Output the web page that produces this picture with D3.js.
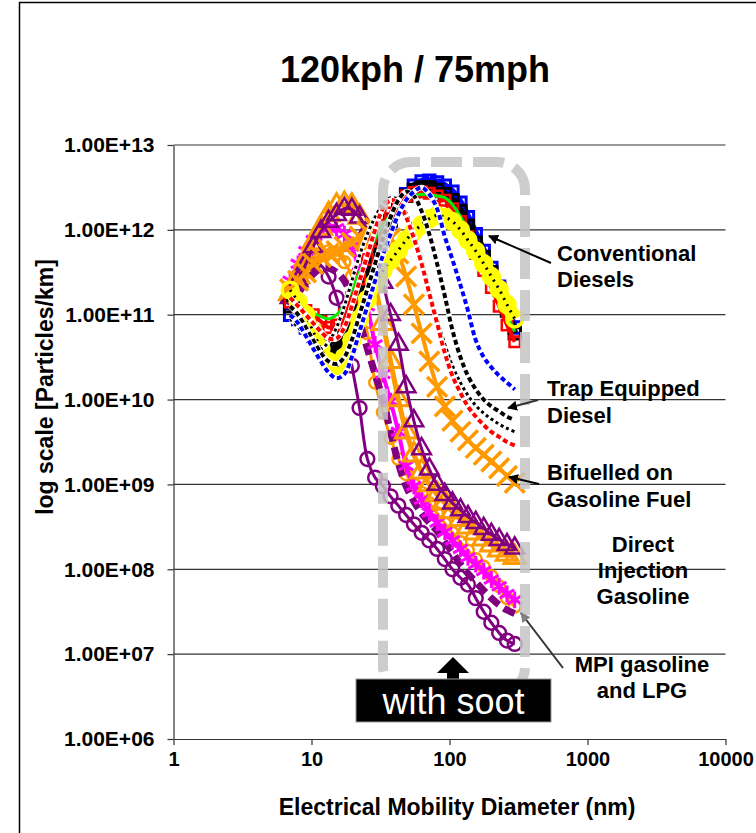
<!DOCTYPE html>
<html><head><meta charset="utf-8">
<script src="https://cdn.jsdelivr.net/npm/d3@7"></script>
<style>body{margin:0;background:#fff;} svg{display:block;font-family:Arial,"Liberation Sans",sans-serif;}</style>
</head><body><svg id="c" width="756" height="833"></svg>
<script>
// ---- DATA (diameters in nm, values as log10 of particles/km) ----
const diameters = [7, 8, 9.1, 10.3, 11.7, 13.3, 15.2, 17.3, 19.6, 22.3, 25.4, 28.9, 32.9, 37.4, 42.6, 48.5, 55.2, 62.8, 71.4, 81.3, 92.5, 105, 120, 136, 155, 177, 201, 229, 261, 297];

const purpleCircles = [11.3,11.45,11.55,11.6,11.58,11.45,11.2,10.85,10.4,9.9,9.3,9.08,8.98,8.86,8.75,8.64,8.53,8.43,8.34,8.24,8.12,8.0,7.9,7.82,7.66,7.5,7.37,7.25,7.16,7.12];
const orangeCircles = [11.2,11.35,11.5,11.62,11.7,11.75,11.72,11.62,11.45,11.15,10.78,10.2,9.85,9.55,9.3,9.12,9.0,8.9,8.78,8.66,8.54,8.43,8.32,8.22,8.12,8.03,7.92,7.8,7.66,7.56];
const purpleDashes = [11.1,11.25,11.38,11.48,11.55,11.55,11.5,11.4,11.2,10.92,10.6,10.3,10.0,9.62,9.25,8.98,8.8,8.66,8.55,8.45,8.32,8.2,8.06,7.95,7.85,7.75,7.66,7.58,7.52,7.48];
const magentaDI = [11.4,11.6,11.75,11.88,11.97,12.02,12.02,11.95,11.8,11.5,11.1,10.65,10.3,9.98,9.62,9.22,8.98,8.82,8.67,8.55,8.44,8.34,8.24,8.14,8.06,7.98,7.88,7.8,7.71,7.64];
const orangeTriangles = [11.25,11.45,11.65,11.85,12.02,12.18,12.28,12.3,12.28,12.15,11.85,11.35,10.9,10.45,10.0,9.62,9.35,9.15,9.0,8.88,8.78,8.68,8.59,8.5,8.43,8.36,8.29,8.23,8.18,8.14];
const purpleTriangles = [11.2,11.4,11.6,11.8,11.98,12.1,12.18,12.25,12.24,12.15,12.0,11.75,11.38,11.0,10.65,10.15,9.75,9.42,9.18,9.0,8.88,8.78,8.7,8.62,8.55,8.48,8.41,8.35,8.29,8.25];
const bifuelOrangeX = [11.3,11.4,11.5,11.6,11.68,11.72,11.75,11.8,11.85,11.92,11.98,12.02,12.0,11.9,11.72,11.45,11.12,10.78,10.45,10.15,9.92,9.75,9.62,9.52,9.43,9.35,9.27,9.19,9.1,9.02];
const blueDiesel = [11.0,10.95,10.85,10.75,10.62,10.5,10.45,10.55,10.75,11.0,11.3,11.6,11.88,12.1,12.28,12.42,12.52,12.57,12.58,12.56,12.52,12.45,12.32,12.15,11.95,11.75,11.55,11.33,11.08,10.85];
const blackDiesel = [11.1,11.0,10.9,10.8,10.7,10.6,10.62,10.75,10.95,11.2,11.45,11.7,11.93,12.12,12.28,12.4,12.47,12.5,12.5,12.47,12.42,12.35,12.22,12.05,11.85,11.68,11.5,11.3,11.05,10.78];
const redDiesel = [11.15,11.1,11.05,11.0,10.92,10.85,10.88,11.0,11.2,11.42,11.65,11.87,12.05,12.2,12.32,12.4,12.44,12.45,12.43,12.4,12.35,12.25,12.1,11.92,11.72,11.52,11.32,11.1,10.88,10.68];
const greenDiesel = [11.2,11.15,11.08,11.02,10.98,10.95,11.0,11.12,11.3,11.5,11.7,11.9,12.05,12.18,12.28,12.35,12.4,12.42,12.41,12.4,12.38,12.3,12.16,11.99,11.8,11.62,11.43,11.22,11.0,10.8];
const yellowDiesel = [11.29,11.15,11.0,10.8,10.6,10.45,10.4,10.5,10.7,10.95,11.18,11.38,11.52,11.64,11.76,11.88,11.98,12.06,12.13,12.17,12.15,12.1,12.0,11.88,11.75,11.6,11.45,11.3,11.12,10.95];
const grayTrap = [10.95,10.85,10.75,10.65,10.6,10.68,10.85,11.1,11.4,11.7,11.95,12.15,12.3,12.38,12.35,12.2,11.95,11.65,11.3,10.95,10.65,10.4,10.2,10.05,9.93,9.84,9.77,9.71,9.66,9.62];
const redTrap = [11.2,11.1,11.0,10.9,10.8,10.72,10.72,10.85,11.1,11.4,11.7,12.0,12.25,12.35,12.32,12.15,11.9,11.6,11.25,10.9,10.55,10.28,10.08,9.92,9.8,9.7,9.62,9.56,9.5,9.46];
const blackTrap = [11.1,11.0,10.85,10.7,10.55,10.45,10.42,10.5,10.7,11.0,11.3,11.6,11.9,12.15,12.35,12.45,12.4,12.22,11.95,11.6,11.22,10.82,10.5,10.28,10.12,10.0,9.92,9.86,9.8,9.76];
const blueTrap = [11.0,10.9,10.75,10.6,10.45,10.32,10.25,10.3,10.5,10.8,11.1,11.4,11.7,11.95,12.18,12.35,12.45,12.5,12.42,12.25,11.92,11.65,11.35,11.05,10.7,10.5,10.38,10.28,10.2,10.12];

const xTicks = [1, 10, 100, 1000, 10000];
const xTickLabels = ["1", "10", "100", "1000", "10000"];
const yTicks = [1e6, 1e7, 1e8, 1e9, 1e10, 1e11, 1e12, 1e13];
const yTickLabels = ["1.00E+06","1.00E+07","1.00E+08","1.00E+09","1.00E+10","1.00E+11","1.00E+12","1.00E+13"];

const titleText = "120kph / 75mph";
const xLabel = "Electrical Mobility Diameter (nm)";
const yLabel = "log scale [Particles/km]";

// ---- STYLES ----
const series = [
  {v: purpleCircles, color:"#800080", lw:3, marker:"circle", ms:150, mw:2.5},
  {v: orangeCircles, color:"#ff9900", lw:3, marker:"circle", ms:110, mw:2.5},
  {v: purpleDashes, color:"#800080", lw:7, dash:"12,6"},
  {v: magentaDI, color:"#ff00ff", lw:4, marker:"asterisk", ms:200, mw:3},
  {v: orangeTriangles, color:"#ff9900", lw:5, marker:"triangle", ms:200, mw:3},
  {v: purpleTriangles, color:"#800080", lw:3, marker:"triangle", ms:150, mw:2.5},
  {v: bifuelOrangeX, color:"#ff9900", lw:4, marker:"times", ms:260, mw:3.5},
  {v: blueDiesel, color:"#0000ff", lw:7, marker:"square", ms:130, mw:3},
  {v: blackDiesel, color:"#000000", lw:7, marker:"square", ms:130, mw:3},
  {v: redDiesel, color:"#ff0000", lw:4, marker:"square", ms:110, mw:2.5},
  {v: greenDiesel, color:"#00ee00", lw:3},
  {v: yellowDiesel, color:"#ffff00", lw:14, marker:"circle", ms:200, mw:3.5, overlay:{color:"#000", lw:3, dash:"2,5"}},
  {v: grayTrap, color:"#000000", lw:3, dash:"3,3", under:"#ffffff"},
  {v: redTrap, color:"#ff0000", lw:4, dash:"5,3", under:"#ffffff"},
  {v: blackTrap, color:"#000000", lw:4, dash:"5,3", under:"#ffffff"},
  {v: blueTrap, color:"#0000ff", lw:4, dash:"5,3", under:"#ffffff"}
];

const svg = d3.select("#c");
const x = d3.scaleLog().domain([1, 10000]).range([173.5, 725.5]);
const y = d3.scaleLog().domain([1e6, 1e13]).range([739, 145]);

// frame
svg.append("rect").attr("x",19.5).attr("y",2.5).attr("width",800).attr("height",900)
  .attr("fill","none").attr("stroke","#000").attr("stroke-width",1.5);

// title
svg.append("text").attr("x",415).attr("y",82).attr("text-anchor","middle")
  .attr("font-weight","bold").attr("font-size",36).text(titleText);

// gridlines
svg.append("g").selectAll("line").data(yTicks.slice(1)).join("line")
  .attr("x1",173.5).attr("x2",725.5).attr("y1",d=>y(d)).attr("y2",d=>y(d))
  .attr("stroke","#333").attr("stroke-width",1.2);

// axes
const yAxis = svg.append("g").attr("transform","translate(173.5,0)")
  .call(d3.axisLeft(y).tickValues(yTicks).tickFormat((d,i)=>yTickLabels[i]).tickSize(6).tickSizeOuter(0).tickPadding(13));
yAxis.selectAll("text").attr("font-size",21).attr("font-weight","bold").attr("fill","#000").attr("font-family","Arial,'Liberation Sans',sans-serif");
yAxis.selectAll("path,line").attr("stroke","#333").attr("stroke-width",1.2);

const xAxis = svg.append("g").attr("transform","translate(0,739)")
  .call(d3.axisBottom(x).tickValues(xTicks).tickFormat((d,i)=>xTickLabels[i]).tickSize(6).tickSizeOuter(0).tickPadding(7));
xAxis.selectAll("text").attr("font-size",20).attr("font-weight","bold").attr("fill","#000").attr("font-family","Arial,'Liberation Sans',sans-serif");
xAxis.selectAll("path,line").attr("stroke","#333").attr("stroke-width",1.2);

// axis labels
svg.append("text").attr("x",457).attr("y",815).attr("text-anchor","middle")
  .attr("font-weight","bold").attr("font-size",23).text(xLabel);
svg.append("text").attr("transform","translate(53,387) rotate(-90)").attr("text-anchor","middle")
  .attr("font-weight","bold").attr("font-size",23).text(yLabel);

// series
const line = d3.line().x((d,i)=>x(diameters[i])).y(d=>y(Math.pow(10,d))).curve(d3.curveCatmullRom);
const symMap = {
  circle: d3.symbolCircle, square: d3.symbolSquare, triangle: d3.symbolTriangle,
  times: d3.symbolTimes || d3.symbolCross, asterisk: d3.symbolAsterisk || d3.symbolCross
};
const gS = svg.append("g");
series.forEach(s => {
  if (s.under) gS.append("path").attr("d", line(s.v)).attr("fill","none").attr("stroke",s.under).attr("stroke-width",s.lw+1.5);
  gS.append("path").attr("d", line(s.v)).attr("fill","none").attr("stroke",s.color)
    .attr("stroke-width",s.lw).attr("stroke-dasharray",s.dash||null).attr("stroke-linejoin","round");
  if (s.marker) {
    const sym = d3.symbol().type(symMap[s.marker]).size(s.ms);
    gS.append("g").selectAll("path").data(s.v).join("path")
      .attr("transform",(d,i)=>`translate(${x(diameters[i])},${y(Math.pow(10,d))})`)
      .attr("d", sym()).attr("fill","none").attr("stroke",s.color).attr("stroke-width",s.mw);
  }
  if (s.overlay) gS.append("path").attr("d", line(s.v)).attr("fill","none").attr("stroke",s.overlay.color)
    .attr("stroke-width",s.overlay.lw).attr("stroke-dasharray",s.overlay.dash);
});

// dashed highlight box
svg.append("rect").attr("x",383).attr("y",162).attr("width",142).attr("height",533).attr("rx",28)
  .attr("fill","none").attr("stroke","#c4c4c4").attr("stroke-width",10).attr("stroke-dasharray","31,11")
  .attr("stroke-dashoffset",-20).attr("opacity",0.85);

// arrows
const defs = svg.append("defs");
[["ahb","#000"],["ahg","#808080"]].forEach(([id,c])=>{
  defs.append("marker").attr("id",id).attr("viewBox","0 0 10 10").attr("refX",9).attr("refY",5)
    .attr("markerWidth",5).attr("markerHeight",5).attr("orient","auto").attr("markerUnits","strokeWidth")
    .append("path").attr("d","M0,0L10,5L0,10z").attr("fill",c);
});
const arrows = [
  {x1:551,y1:263,x2:489,y2:236,c:"#000",m:"ahb"},
  {x1:538,y1:400,x2:508,y2:408,c:"#333",m:"ahb"},
  {x1:539,y1:484,x2:509,y2:477,c:"#000",m:"ahb"},
  {x1:563,y1:668,x2:521,y2:613,c:"#333",m:"ahg"}
];
svg.append("g").selectAll("line").data(arrows).join("line")
  .attr("x1",d=>d.x1).attr("y1",d=>d.y1).attr("x2",d=>d.x2).attr("y2",d=>d.y2)
  .attr("stroke",d=>d.c).attr("stroke-width",2).attr("marker-end",d=>`url(#${d.m})`);

// annotation labels
const labels = [
  {x:557, y:261, a:"start", t:"Conventional"}, {x:557, y:287, a:"start", t:"Diesels"},
  {x:547, y:396, a:"start", t:"Trap Equipped"}, {x:547, y:423, a:"start", t:"Diesel"},
  {x:547, y:480, a:"start", t:"Bifuelled on"}, {x:547, y:507, a:"start", t:"Gasoline Fuel"},
  {x:643, y:552, a:"middle", t:"Direct"}, {x:643, y:578, a:"middle", t:"Injection"}, {x:643, y:604, a:"middle", t:"Gasoline"},
  {x:642, y:672, a:"middle", t:"MPI gasoline"}, {x:642, y:698, a:"middle", t:"and LPG"}
];
svg.append("g").selectAll("text").data(labels).join("text")
  .attr("x",d=>d.x).attr("y",d=>d.y).attr("text-anchor",d=>d.a)
  .attr("font-weight","bold").attr("font-size",22).attr("fill","#000").text(d=>d.t);

// with soot box
svg.append("polygon").attr("points","453,657 469,673 459,673 459,680 447,680 447,673 437,673").attr("fill","#000");
svg.append("rect").attr("x",356).attr("y",679).attr("width",195).attr("height",43)
  .attr("fill","#000").attr("stroke","#999").attr("stroke-width",1);
svg.append("text").attr("x",453.5).attr("y",714).attr("text-anchor","middle")
  .attr("font-size",36).attr("fill","#fff").text("with soot");
</script></body></html>
